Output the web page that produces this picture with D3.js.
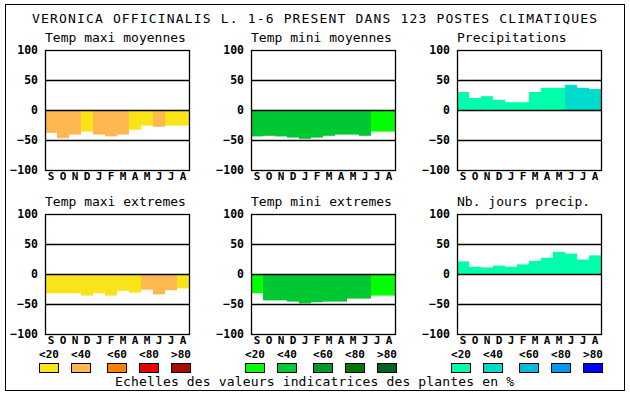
<!DOCTYPE html>
<html>
<head>
<meta charset="utf-8">
<script src="https://cdn.jsdelivr.net/npm/d3@7"></script>
<style>
  body { margin: 0; background: #fff; }
  svg text { font-family: "DejaVu Sans Mono", monospace; fill: #000; }
</style>
</head>
<body>
<div id="chart"></div>
<script>
// chart data
var titleText = "VERONICA OFFICINALIS L. 1-6 PRESENT DANS 123 POSTES CLIMATIQUES";
var captionText = "Echelles des valeurs indicatrices des plantes en %";
var months = ["S","O","N","D","J","F","M","A","M","J","J","A"];
var yTicks = [100, 50, 0, -50, -100];
var classLabels = ["<20", "<40", "<60", "<80", ">80"];

var panelTitles = ["Temp maxi moyennes", "Temp mini moyennes", "Precipitations",
                   "Temp maxi extremes", "Temp mini extremes", "Nb. jours precip."];

var maxiMoyValues = [-38, -47, -41, -36, -41, -44, -41, -33, -26, -28, -26, -26];
var maxiMoyClass  = [1, 1, 1, 0, 1, 1, 1, 0, 0, 1, 0, 0];
var miniMoyValues = [-44, -43, -44, -46, -48, -46, -43, -41, -41, -43, -36, -36];
var miniMoyClass  = [1, 1, 1, 1, 1, 1, 1, 1, 1, 1, 0, 0];
var precipValues  = [30, 20, 23, 17, 13, 13, 30, 37, 37, 42, 37, 35];
var precipClass   = [0, 0, 0, 0, 0, 0, 0, 0, 0, 1, 1, 1];
var maxiExtValues = [-32, -32, -32, -36, -32, -36, -28, -31, -26, -34, -27, -24];
var maxiExtClass  = [0, 0, 0, 0, 0, 0, 0, 0, 1, 1, 1, 0];
var miniExtValues = [-32, -44, -44, -46, -49, -47, -46, -46, -41, -41, -36, -36];
var miniExtClass  = [0, 1, 1, 1, 1, 1, 1, 1, 1, 1, 0, 0];
var joursValues   = [21, 12, 11, 14, 12, 16, 22, 27, 37, 34, 24, 31];
var joursClass    = [0, 0, 0, 0, 0, 0, 0, 0, 0, 0, 0, 0];

var maxiColors  = ["#f8e418", "#ffb84f", "#ff7f00", "#e80000", "#a80c00"];
var miniColors  = ["#00ff00", "#00c832", "#009a2a", "#007800", "#006420"];
var precipColors = ["#00ffaa", "#00dccc", "#00bbdd", "#0099ee", "#0000ff"];

var panels = [
    {title: panelTitles[0], values: maxiMoyValues, cls: maxiMoyClass, colors: maxiColors, col: 0, row: 0},
    {title: panelTitles[1], values: miniMoyValues, cls: miniMoyClass, colors: miniColors, col: 1, row: 0},
    {title: panelTitles[2], values: precipValues, cls: precipClass, colors: precipColors, col: 2, row: 0},
    {title: panelTitles[3], values: maxiExtValues, cls: maxiExtClass, colors: maxiColors, col: 0, row: 1},
    {title: panelTitles[4], values: miniExtValues, cls: miniExtClass, colors: miniColors, col: 1, row: 1},
    {title: panelTitles[5], values: joursValues, cls: joursClass, colors: precipColors, col: 2, row: 1}
];

var W = 630, H = 394;
var colX = [45, 251, 457];
var rowY = [50, 214];
var plotW = 144, plotH = 120;

var svg = d3.select("#chart").append("svg")
    .attr("width", W).attr("height", H);

svg.append("rect")
    .attr("x", 5.5).attr("y", 4.5)
    .attr("width", 619).attr("height", 386)
    .attr("fill", "#fff").attr("stroke", "#000");

svg.append("text")
    .attr("x", 32).attr("y", 23)
    .attr("font-size", 13)
    .attr("textLength", 565).attr("lengthAdjust", "spacing")
    .text(titleText);

function drawPanel(p) {
    var x0 = colX[p.col], y0 = rowY[p.row];
    var g = svg.append("g").attr("transform", "translate(" + x0 + "," + y0 + ")");

    var x = d3.scaleBand().domain(d3.range(months.length)).range([0, plotW]).padding(0);
    var y = d3.scaleLinear().domain([-100, 100]).range([plotH, 0]);

    g.append("text")
        .attr("x", 0).attr("y", -8)
        .attr("font-size", 13)
        .text(p.title);

    g.selectAll("rect.bar")
        .data(p.values)
        .enter().append("rect")
            .attr("class", "bar")
            .attr("x", function(d, i) { return x(i); })
            .attr("y", function(d) { return y(Math.max(0, d)); })
            .attr("width", x.bandwidth())
            .attr("height", function(d) { return Math.abs(y(d) - y(0)); })
            .attr("fill", function(d, i) { return p.colors[p.cls[i]]; });

    g.selectAll("line.grid")
        .data([50, 0, -50])
        .enter().append("line")
            .attr("class", "grid")
            .attr("x1", 0).attr("x2", plotW)
            .attr("y1", function(d) { return Math.round(y(d)) + 0.5; })
            .attr("y2", function(d) { return Math.round(y(d)) + 0.5; })
            .attr("stroke", "#000").attr("stroke-width", 1.3);

    g.append("rect")
        .attr("x", 0.5).attr("y", 0.5)
        .attr("width", plotW).attr("height", plotH)
        .attr("fill", "none").attr("stroke", "#000").attr("stroke-width", 1.3);

    var yAxis = d3.axisLeft(y).tickValues(yTicks).tickSize(0).tickPadding(7);
    var ya = g.append("g").call(yAxis);
    ya.select(".domain").remove();
    ya.selectAll("text")
        .attr("font-size", 11.5).attr("font-weight", "bold")
        .attr("font-family", "DejaVu Sans Mono, monospace")
        .attr("fill", "#000");

    var xAxis = d3.axisBottom(x).tickFormat(function(i) { return months[i]; }).tickSize(0).tickPadding(2);
    var xa = g.append("g").attr("transform", "translate(0," + plotH + ")").call(xAxis);
    xa.select(".domain").remove();
    xa.selectAll("text")
        .attr("font-size", 11).attr("font-weight", "bold")
        .attr("font-family", "DejaVu Sans Mono, monospace")
        .attr("fill", "#000");
}

panels.forEach(drawPanel);

// legend groups
var legendColors = [maxiColors, miniColors, precipColors];
var legendOffsets = [0, 32, 68, 100, 132];
var legendStart = [39, 245, 451];

legendColors.forEach(function(colors, gi) {
    var lg = svg.append("g").attr("transform", "translate(" + legendStart[gi] + ",0)");
    lg.selectAll("text.lab")
        .data(classLabels)
        .enter().append("text")
            .attr("class", "lab")
            .attr("x", function(d, i) { return legendOffsets[i] + 10; })
            .attr("y", 358)
            .attr("text-anchor", "middle")
            .attr("font-size", 11).attr("font-weight", "bold")
            .text(function(d) { return d; });
    lg.selectAll("rect.sw")
        .data(colors)
        .enter().append("rect")
            .attr("class", "sw")
            .attr("x", function(d, i) { return legendOffsets[i] + 0.5; })
            .attr("y", 363.5)
            .attr("width", 19).attr("height", 9)
            .attr("fill", function(d) { return d; })
            .attr("stroke", "#000");
});

svg.append("text")
    .attr("x", 115).attr("y", 386)
    .attr("font-size", 13)
    .attr("textLength", 399).attr("lengthAdjust", "spacing")
    .text(captionText);
</script>
</body>
</html>
